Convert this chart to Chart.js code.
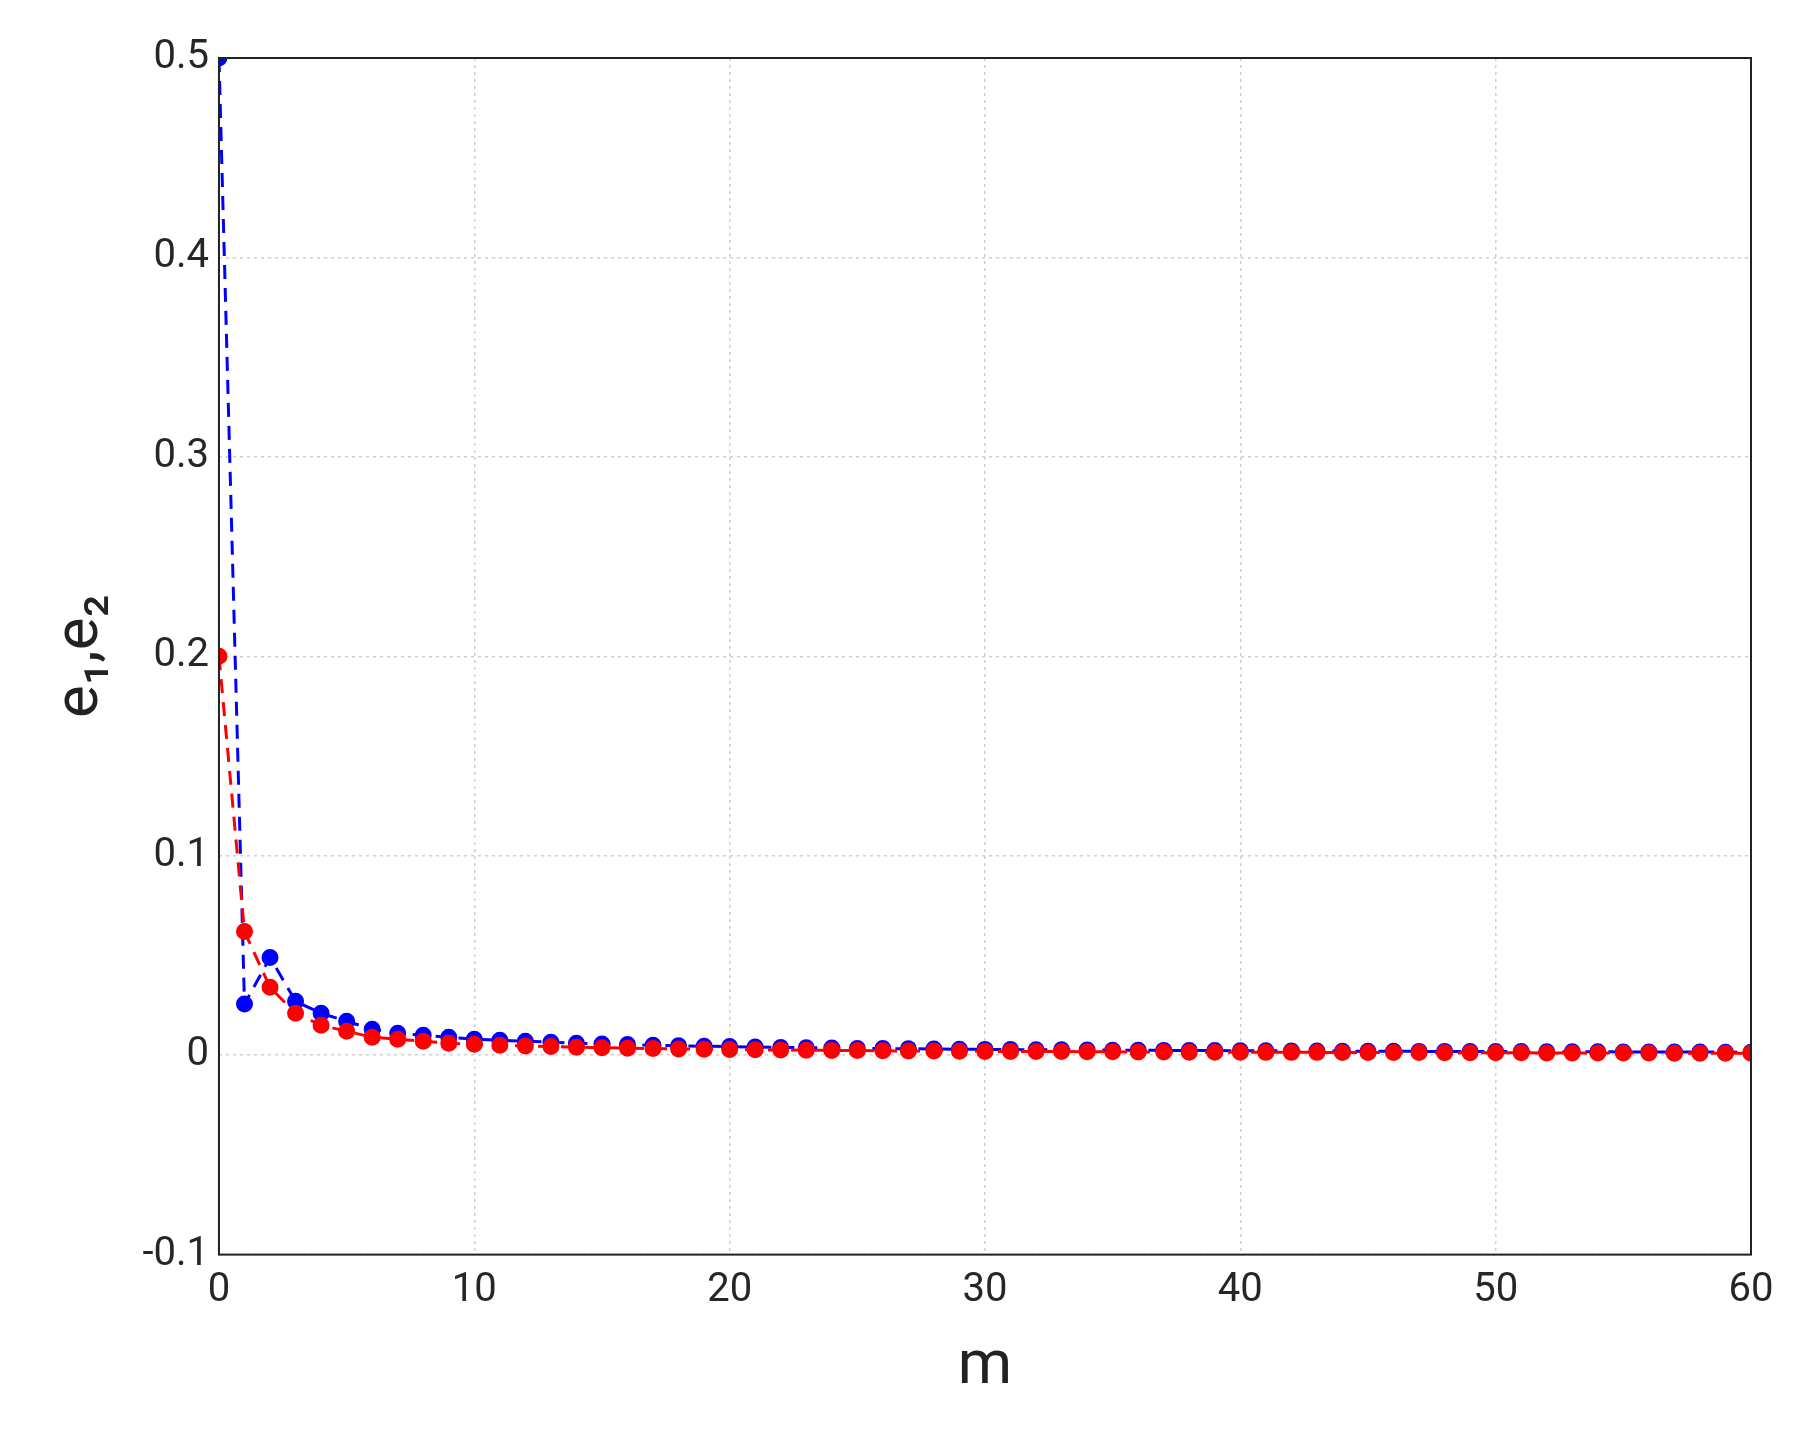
<!DOCTYPE html>
<html>
<head>
<meta charset="utf-8">
<script src="https://cdn.jsdelivr.net/npm/chart.js@4"></script>
<style>
  body { margin: 0; background: #fff; }
  #wrap { width: 1803px; height: 1449px; }
</style>
</head>
<body>
<div id="wrap"><canvas id="errChart"></canvas></div>
<script>
// values
const mValues = [];
for (let i = 0; i <= 60; i++) mValues.push(i);

const e1 = [0.5, 0.0256, 0.049, 0.027, 0.021, 0.017, 0.013, 0.011, 0.010, 0.009,
  0.008, 0.0075, 0.007, 0.0065, 0.006, 0.0056, 0.0053, 0.005, 0.0047, 0.0045,
  0.0043, 0.0041, 0.0039, 0.0037, 0.0036, 0.0034, 0.0033, 0.0032, 0.0031, 0.003,
  0.0029, 0.0028, 0.0027, 0.0027, 0.0026, 0.0025, 0.0025, 0.0024, 0.0023, 0.0023,
  0.0022, 0.0022, 0.0021, 0.0021, 0.002, 0.002, 0.002, 0.0019, 0.0019, 0.0018,
  0.0018, 0.0018, 0.0017, 0.0017, 0.0017, 0.0016, 0.0016, 0.0016, 0.0016, 0.0015, 0.0015];
const e2 = [0.2, 0.062, 0.034, 0.021, 0.015, 0.012, 0.009, 0.008, 0.007, 0.006,
  0.0055, 0.005, 0.0046, 0.0043, 0.004, 0.0037, 0.0035, 0.0033, 0.0031, 0.003,
  0.0028, 0.0027, 0.0026, 0.0025, 0.0024, 0.0023, 0.0022, 0.0021, 0.0021, 0.002,
  0.0019, 0.0019, 0.0018, 0.0018, 0.0017, 0.0017, 0.0016, 0.0016, 0.0015, 0.0015,
  0.0015, 0.0014, 0.0014, 0.0014, 0.0013, 0.0013, 0.0013, 0.0013, 0.0012, 0.0012,
  0.0012, 0.0012, 0.0011, 0.0011, 0.0011, 0.0011, 0.0011, 0.001, 0.001, 0.001, 0.001];

const yTicks = [-0.1, 0, 0.1, 0.2, 0.3, 0.4, 0.5];
const xTicks = [0, 10, 20, 30, 40, 50, 60];

function toPoints(ys) {
    return mValues.map((m, i) => ({ x: m, y: ys[i] }));
}

const boxPlugin = {
    id: 'box',
    afterDraw(chart) {
        const a = chart.chartArea, ctx = chart.ctx;
        ctx.save();
        ctx.strokeStyle = '#222';
        ctx.lineWidth = 2;
        ctx.strokeRect(a.left, a.top, a.right - a.left, a.bottom - a.top);
        ctx.restore();
    }
};

const errChart = new Chart(document.getElementById('errChart').getContext('2d'), {
    type: 'line',
    data: {
        datasets: [{
            label: 'e2',
            data: toPoints(e2),
            borderColor: '#ff0000',
            backgroundColor: '#ff0000',
            borderDash: [14, 9],
            borderWidth: 3,
            pointRadius: 7,
            fill: false
        }, {
            label: 'e1',
            data: toPoints(e1),
            borderColor: '#0000ff',
            backgroundColor: '#0000ff',
            borderDash: [14, 9],
            borderWidth: 3,
            pointRadius: 7,
            fill: false
        }]
    },
    options: {
        responsive: true,
        maintainAspectRatio: false,
        animation: false,
        layout: { padding: { left: 40, right: 52, top: 58, bottom: 40 } },
        plugins: { legend: { display: false }, tooltip: { enabled: false } },
        scales: {
            x: {
                type: 'linear', min: 0, max: 60,
                afterBuildTicks: s => { s.ticks = xTicks.map(v => ({ value: v })); },
                grid: { color: '#d0d0d0', tickLength: 0, lineWidth: 1.5 },
                border: { display: false, dash: [3, 4] },
                ticks: { color: '#262626', font: { family: 'Roboto', size: 40 }, padding: 12 },
                title: { display: true, text: 'm', color: '#222', font: { family: 'Roboto', size: 62 }, padding: { top: 4 } }
            },
            y: {
                min: -0.1, max: 0.5,
                afterBuildTicks: s => { s.ticks = yTicks.map(v => ({ value: v })); },
                grid: { color: '#d0d0d0', tickLength: 0, lineWidth: 1.5 },
                border: { display: false, dash: [3, 4] },
                ticks: {
                    color: '#262626', font: { family: 'Roboto', size: 40 }, padding: 10,
                    callback: v => String(Math.round(v * 10) / 10)
                },
                title: { display: true, text: 'e₁,e₂', color: '#222', font: { family: 'Roboto', size: 62 }, padding: { bottom: 14 } }
            }
        }
    },
    plugins: [boxPlugin]
});
</script>
</body>
</html>
